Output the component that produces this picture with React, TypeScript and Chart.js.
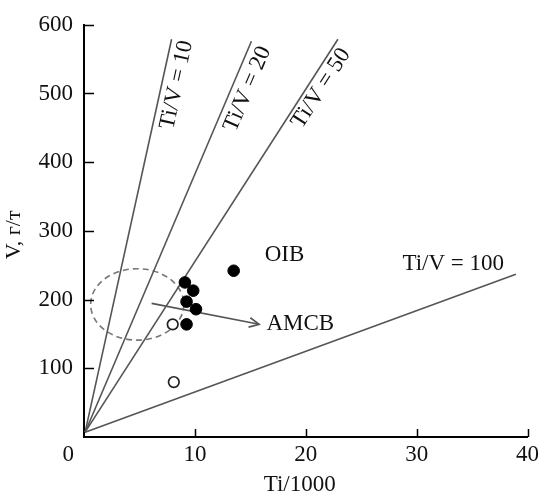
import React, { useEffect, useRef } from "react";
import { Chart, registerables } from "chart.js";

Chart.register(...registerables);

// ---- data ----
const xTickValues = [10, 20, 30, 40];
const yTickValues = [100, 200, 300, 400, 500, 600];

const filledX = [13.5, 9.1, 9.85, 9.25, 10.1, 9.25];
const filledY = [242, 225, 213, 197, 186, 164];
const openX = [8.0, 8.1];
const openY = [164, 80];

const ratioLabels = ["Ti/V = 10", "Ti/V = 20", "Ti/V = 50", "Ti/V = 100"];
const lineStartX = [0.1, 0.1, 0.1, 0.1];
const lineStartY = [7, 7, 7, 7];
const lineEndX = [7.9, 15.1, 22.9, 38.95];
const lineEndY = [579, 576, 579, 237];
const labelX = [8.36, 14.75, 21.39, 33.3];
const labelY = [512.5, 506.5, 507.6, 252.2];

const ellipseCenter = [4.8, 193];
const ellipseRadii = [4.2, 52];
const arrowFrom = [6.1, 194.5];
const arrowTo = [15.8, 164];

const groupLabels = ["OIB", "AMCB"];
const groupLabelX = [16.3, 16.45];
const groupLabelY = [265, 164.5];

const xTitle = "Ti/1000";
const yTitle = "V, г/т";

const FONT = '"Liberation Serif", "Times New Roman", serif';

const overlay = {
  id: "overlay",
  beforeDatasetsDraw(chart: any) {
    const { ctx, scales } = chart;
    const x = scales.x;
    const y = scales.y;
    ctx.save();
    // dashed ellipse
    const cx = x.getPixelForValue(ellipseCenter[0]);
    const cy = y.getPixelForValue(ellipseCenter[1]);
    const rx = Math.abs(x.getPixelForValue(ellipseCenter[0] + ellipseRadii[0]) - cx);
    const ry = Math.abs(y.getPixelForValue(ellipseCenter[1] + ellipseRadii[1]) - cy);
    ctx.setLineDash([6, 4]);
    ctx.strokeStyle = "#777";
    ctx.lineWidth = 1.6;
    ctx.beginPath();
    ctx.ellipse(cx, cy, rx, ry, 0, 0, Math.PI * 2);
    ctx.stroke();
    ctx.setLineDash([]);
    // arrow
    const ax1 = x.getPixelForValue(arrowFrom[0]);
    const ay1 = y.getPixelForValue(arrowFrom[1]);
    const ax2 = x.getPixelForValue(arrowTo[0]);
    const ay2 = y.getPixelForValue(arrowTo[1]);
    ctx.strokeStyle = "#555";
    ctx.lineWidth = 1.6;
    ctx.beginPath();
    ctx.moveTo(ax1, ay1);
    ctx.lineTo(ax2, ay2);
    ctx.stroke();
    const ang = Math.atan2(ay2 - ay1, ax2 - ax1);
    const hl = 11;
    const ha = 0.45;
    ctx.beginPath();
    ctx.moveTo(ax2 - hl * Math.cos(ang - ha), ay2 - hl * Math.sin(ang - ha));
    ctx.lineTo(ax2, ay2);
    ctx.lineTo(ax2 - hl * Math.cos(ang + ha), ay2 - hl * Math.sin(ang + ha));
    ctx.stroke();
    ctx.restore();
  },
  afterDraw(chart: any) {
    const { ctx, scales, chartArea } = chart;
    const x = scales.x;
    const y = scales.y;
    ctx.save();
    // inward ticks
    ctx.strokeStyle = "#000";
    ctx.lineWidth = 1.5;
    ctx.beginPath();
    xTickValues.forEach((v) => {
      const px = Math.round(x.getPixelForValue(v)) + 0.5;
      ctx.moveTo(px, chartArea.bottom);
      ctx.lineTo(px, chartArea.bottom - 8);
    });
    yTickValues.forEach((v) => {
      const py = Math.round(y.getPixelForValue(v)) + 0.5;
      ctx.moveTo(chartArea.left, py);
      ctx.lineTo(chartArea.left + 10, py);
    });
    ctx.stroke();

    ctx.fillStyle = "#111";
    ctx.font = `23px ${FONT}`;
    // origin label
    ctx.textAlign = "center";
    ctx.textBaseline = "middle";
    ctx.fillText("0", chartArea.left - 15.7, chartArea.bottom + 18.3);

    // axis titles
    ctx.fillText(xTitle, (chartArea.left + chartArea.right) / 2 - 6, 485);
    ctx.save();
    ctx.font = `22px ${FONT}`;
    ctx.translate(14, (chartArea.top + chartArea.bottom) / 2 + 4);
    ctx.rotate(-Math.PI / 2);
    ctx.fillText(yTitle, 0, 0);
    ctx.restore();

    // ratio line labels
    ctx.font = `23px ${FONT}`;
    ratioLabels.forEach((t, i) => {
      const px = x.getPixelForValue(labelX[i]);
      const py = y.getPixelForValue(labelY[i]);
      ctx.save();
      ctx.translate(px, py);
      if (i < 3) {
        const dx = x.getPixelForValue(lineEndX[i]) - x.getPixelForValue(lineStartX[i]);
        const dy = y.getPixelForValue(lineEndY[i]) - y.getPixelForValue(lineStartY[i]);
        ctx.rotate(Math.atan2(dy, dx));
      }
      ctx.textAlign = "center";
      ctx.textBaseline = "middle";
      ctx.fillText(t, 0, 0);
      ctx.restore();
    });

    // group labels
    groupLabels.forEach((t, i) => {
      ctx.textAlign = "left";
      ctx.textBaseline = "middle";
      ctx.fillText(t, x.getPixelForValue(groupLabelX[i]), y.getPixelForValue(groupLabelY[i]));
    });
    ctx.restore();
  },
};

export default function App() {
  const ref = useRef<HTMLCanvasElement>(null);
  useEffect(() => {
    if (!ref.current) return;
    const lineDatasets = ratioLabels.map((lbl, i) => ({
      type: "line" as const,
      label: lbl,
      data: [
        { x: lineStartX[i], y: lineStartY[i] },
        { x: lineEndX[i], y: lineEndY[i] },
      ],
      borderColor: "#555",
      borderWidth: 1.6,
      pointRadius: 0,
      showLine: true,
      fill: false,
      order: 5,
    }));
    const chart = new Chart(ref.current, {
      type: "scatter",
      data: {
        datasets: [
          {
            label: "filled",
            data: filledX.map((v, i) => ({ x: v, y: filledY[i] })),
            backgroundColor: "#000",
            borderColor: "#000",
            borderWidth: 1,
            pointRadius: 5.8,
            order: 1,
          },
          {
            label: "open",
            data: openX.map((v, i) => ({ x: v, y: openY[i] })),
            backgroundColor: "#fff",
            borderColor: "#222",
            borderWidth: 1.7,
            pointRadius: 5.3,
            order: 2,
          },
          ...lineDatasets,
        ] as any,
      },
      options: {
        responsive: false,
        animation: false,
        devicePixelRatio: 1,
        layout: { padding: { top: 21, right: 11.5, left: 0, bottom: 0 } },
        plugins: { legend: { display: false }, tooltip: { enabled: false } },
        scales: {
          x: {
            type: "linear",
            min: 0,
            max: 40,
            grid: { display: false, drawTicks: false },
            border: { display: true, color: "#000", width: 2 },
            ticks: {
              stepSize: 10,
              padding: 4,
              color: "#111",
              font: { family: FONT, size: 23 },
              callback: (v: any) => (v === 0 ? "" : String(v)),
            },
            afterFit: (s: any) => {
              s.height = 497 - 437;
            },
          },
          y: {
            type: "linear",
            min: 0,
            max: 600,
            grid: { display: false, drawTicks: false },
            border: { display: true, color: "#000", width: 2 },
            ticks: {
              stepSize: 100,
              padding: 11,
              color: "#111",
              font: { family: FONT, size: 23 },
              callback: (v: any) => (v === 0 ? "" : String(v)),
            },
            afterFit: (s: any) => {
              s.width = 84;
            },
          },
        },
      },
      plugins: [overlay],
    });
    return () => chart.destroy();
  }, []);
  return (
    <div style={{ position: "fixed", left: 0, top: 0, width: 543, height: 497, background: "#fff" }}>
      <canvas ref={ref} width={543} height={497} />
    </div>
  );
}
